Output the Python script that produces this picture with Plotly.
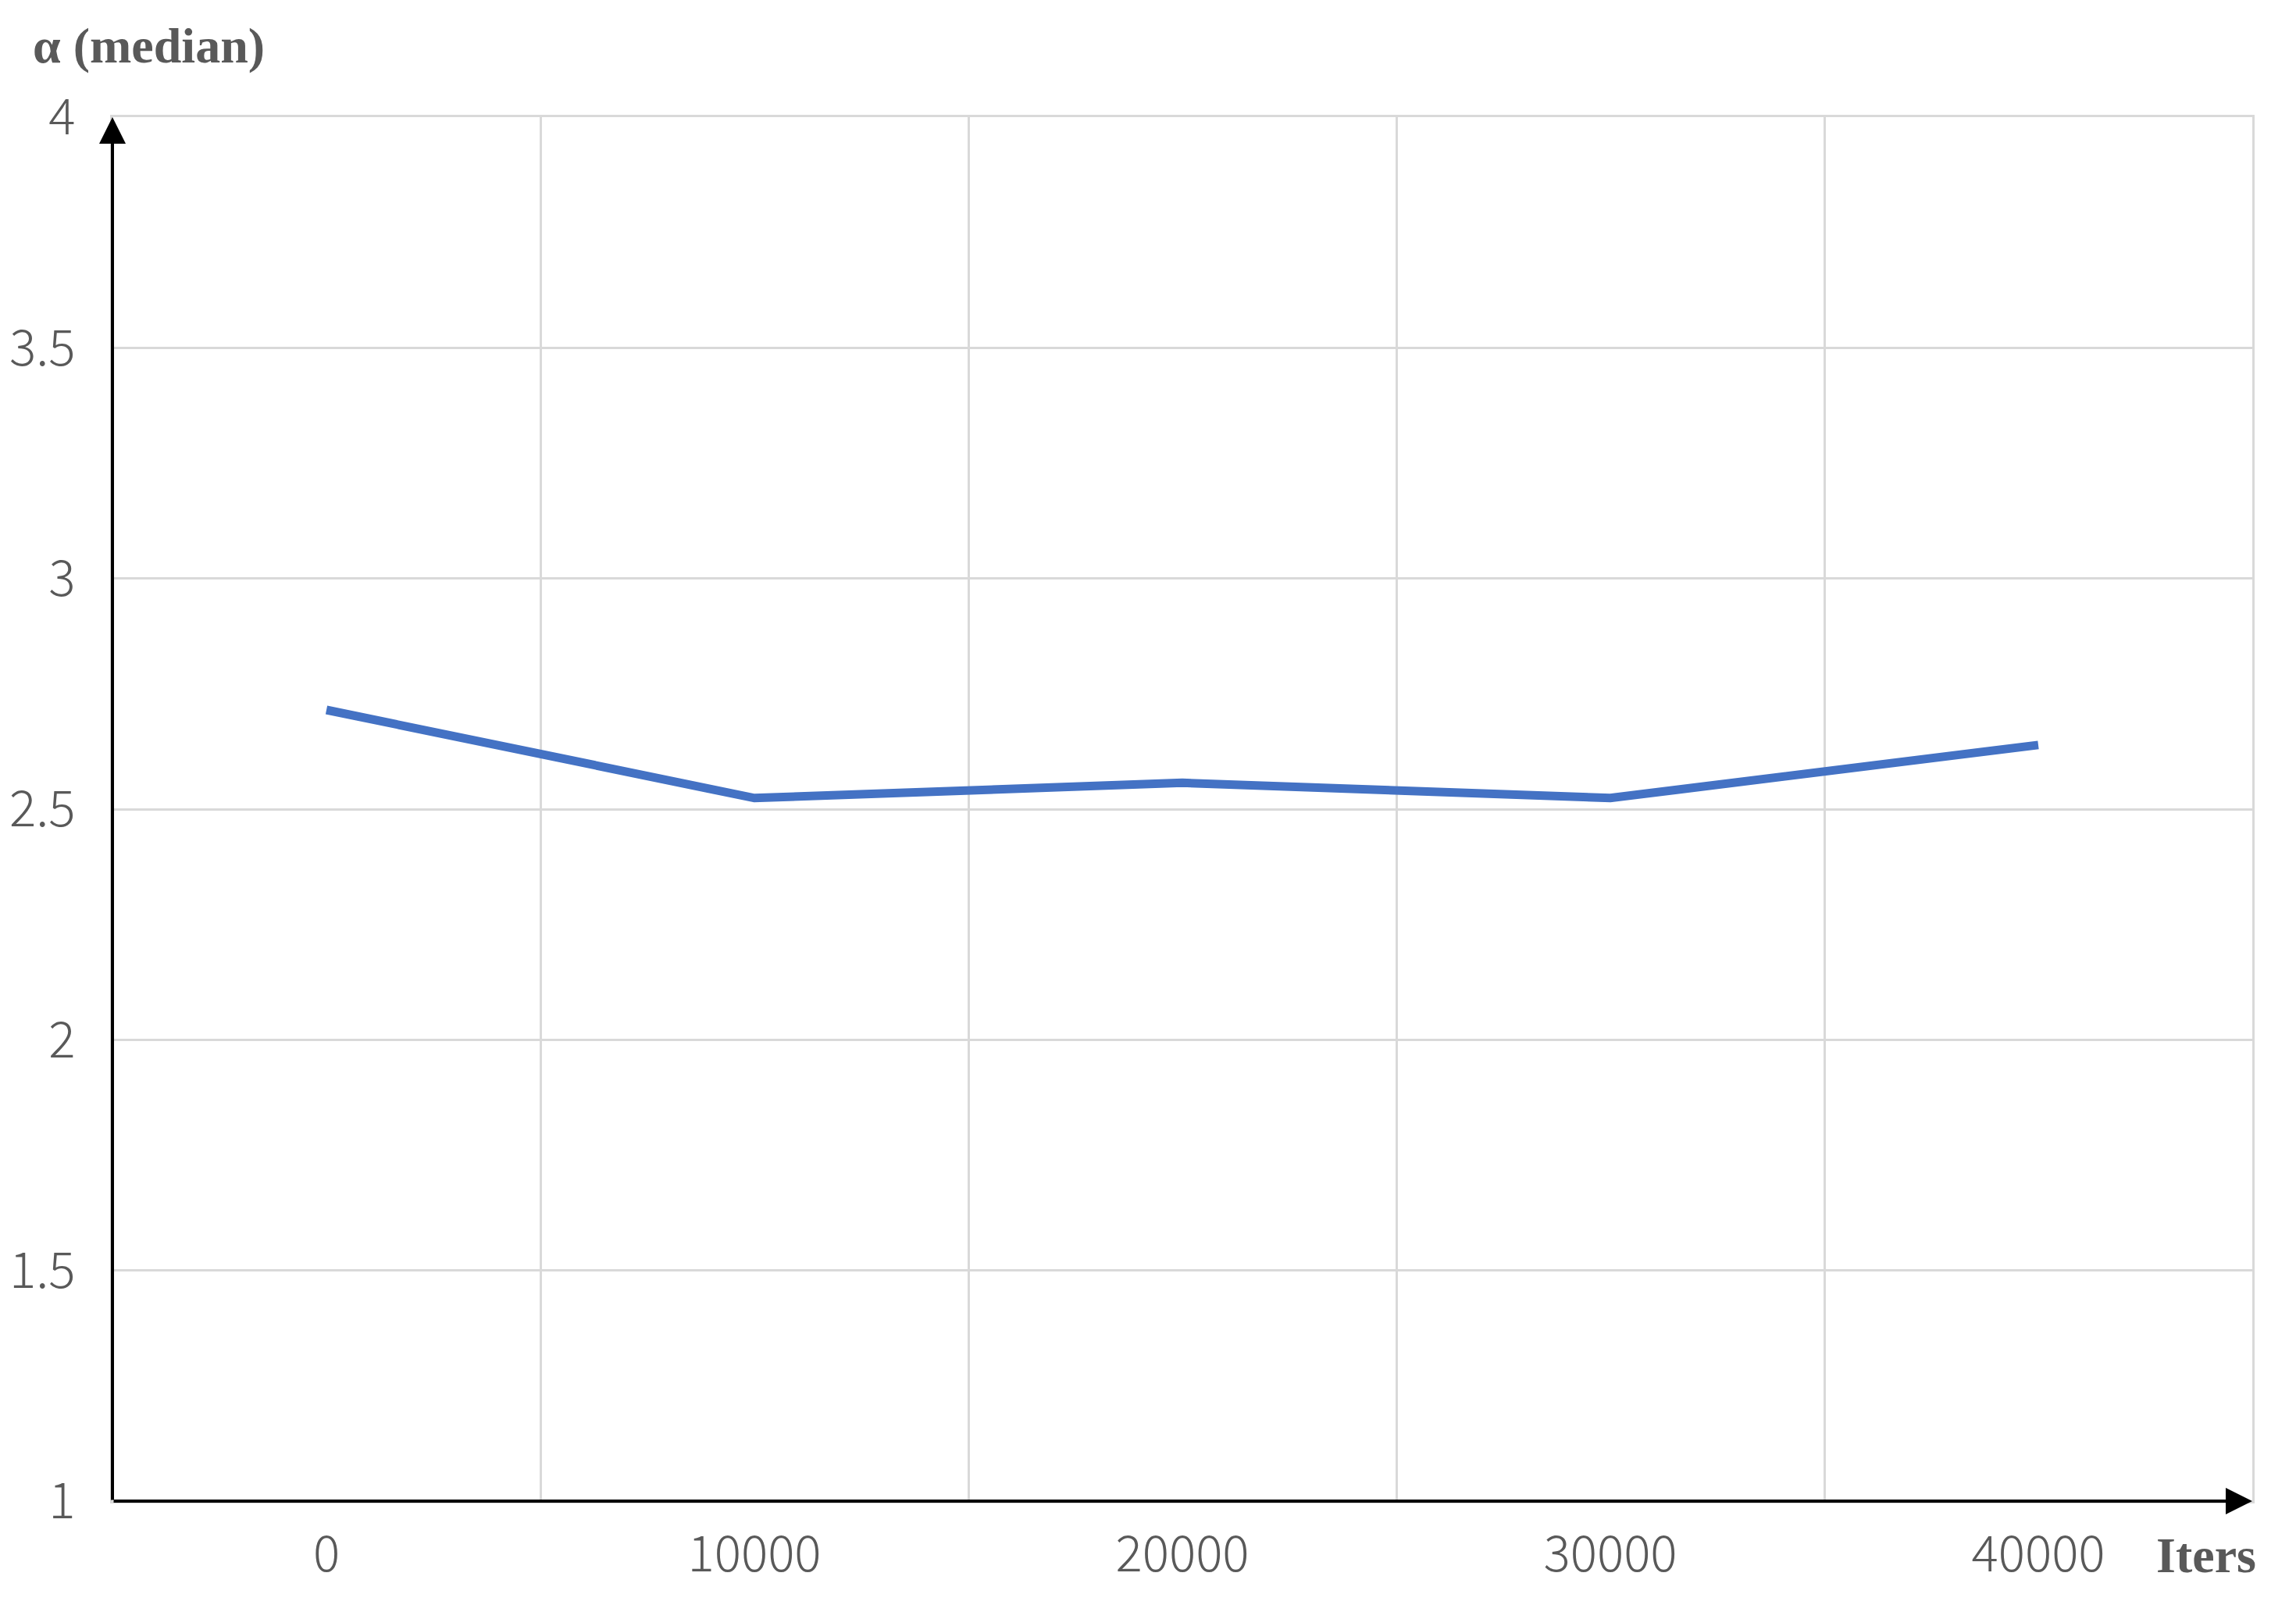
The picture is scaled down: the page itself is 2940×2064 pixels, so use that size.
import plotly.graph_objects as go

iters = [0, 10000, 20000, 30000, 40000]
alpha_median = [2.715, 2.524, 2.557, 2.524, 2.639]
x_ticks = [0, 10000, 20000, 30000, 40000]
y_ticks = [1, 1.5, 2, 2.5, 3, 3.5, 4]
x_range = [-5000, 45000]
y_range = [1, 4]

GREY = "#595959"
GRID = "#D9D9D9"
tick_font = dict(family="Noto Sans CJK SC, Roboto, sans-serif", size=64, color=GREY, weight=300)
title_font = dict(family="Liberation Serif, Times New Roman, serif", size=64, color=GREY, weight="bold")

fig = go.Figure()
fig.add_trace(go.Scatter(x=iters, y=alpha_median, mode="lines",
                         line=dict(color="#4472C4", width=11), showlegend=False,
                         hoverinfo="x+y"))

fig.update_layout(
    width=2940, height=2064,
    margin=dict(l=136, r=64, t=142, b=150, autoexpand=False),
    paper_bgcolor="white", plot_bgcolor="white",
    xaxis=dict(range=x_range, tickvals=x_ticks, ticktext=[str(v) for v in x_ticks],
               showgrid=False, zeroline=False, showline=True, mirror=True,
               linecolor=GRID, linewidth=2.5, ticks="", automargin=False,
               tickfont=tick_font, ticklabelstandoff=10,
               minor=dict(tick0=5000, dtick=10000, showgrid=True, gridcolor=GRID, gridwidth=2.5)),
    yaxis=dict(range=y_range, tickvals=y_ticks, ticktext=[f"{v:g}" for v in y_ticks],
               showgrid=True, gridcolor=GRID, gridwidth=2.5, zeroline=False,
               showline=True, mirror=True, linecolor=GRID, linewidth=2.5, automargin=False,
               ticks="", tickfont=tick_font, ticklabelstandoff=32),
)

# axis arrows
fig.add_annotation(x=x_range[1], y=y_range[0], ax=x_range[0], ay=y_range[0],
                   xref="x", yref="y", axref="x", ayref="y", text="", showarrow=True,
                   arrowhead=2, arrowsize=1.7, arrowwidth=4, arrowcolor="black")
fig.add_annotation(x=x_range[0], y=y_range[1], ax=x_range[0], ay=y_range[0],
                   xref="x", yref="y", axref="x", ayref="y", text="", showarrow=True,
                   arrowhead=2, arrowsize=1.7, arrowwidth=4, arrowcolor="black")

# axis titles
fig.add_annotation(text="α (median)", xref="paper", yref="paper", x=0, y=1,
                   xshift=-104, yshift=92, xanchor="left", yanchor="middle",
                   showarrow=False, font=title_font)
fig.add_annotation(text="Iters", xref="paper", yref="paper", x=1, y=0,
                   xshift=7, yshift=-69, xanchor="right", yanchor="middle",
                   showarrow=False, font=title_font)

fig.write_html("out.html")
